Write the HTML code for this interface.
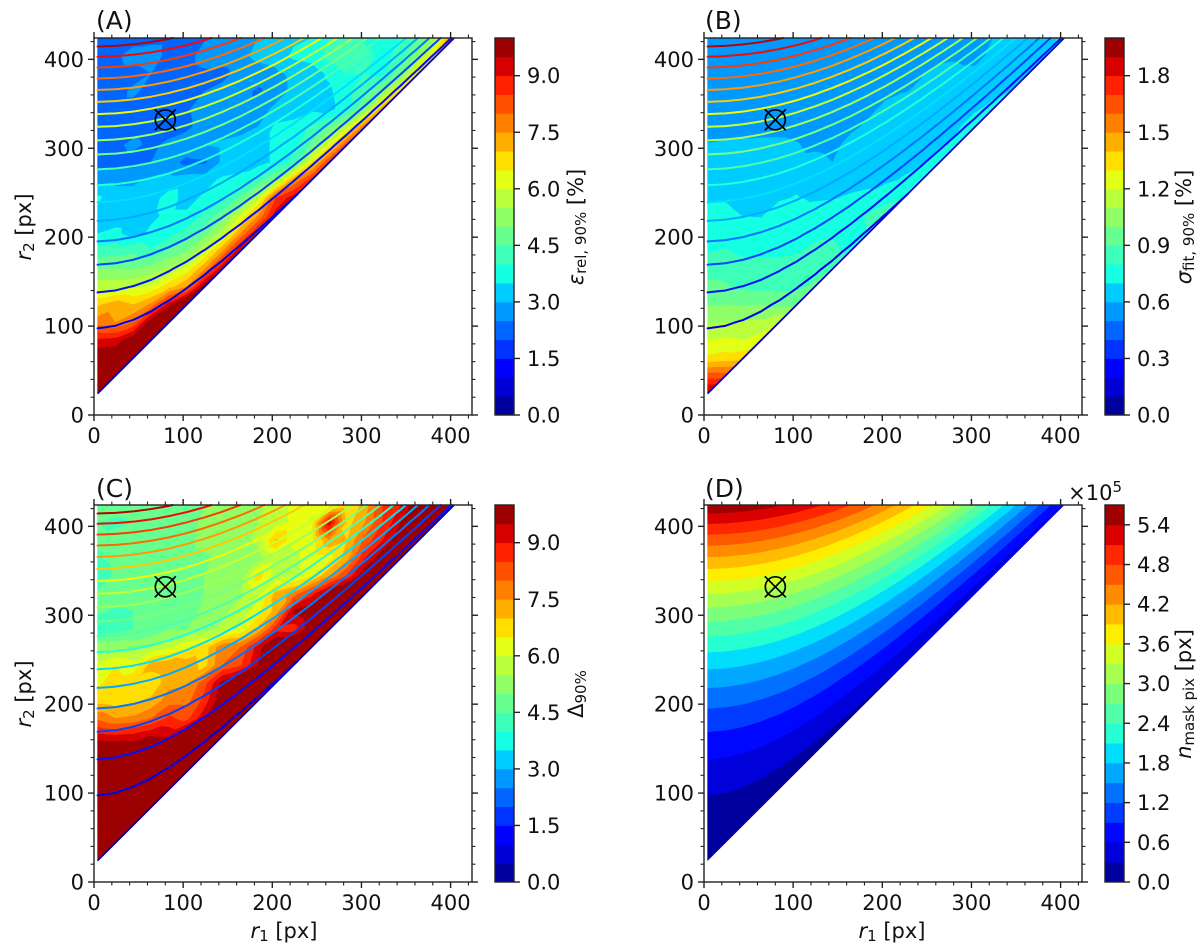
<!DOCTYPE html>
<html lang="en">
<head>
<meta charset="utf-8">
<title>Mask radius parameter study contour maps</title>
<style>
  html, body { margin: 0; padding: 0; background: #fff; }
  svg { display: block; }
  text { font-family: "DejaVu Sans", "Liberation Sans", sans-serif; fill: #111; }
</style>
</head>
<body>
<svg id="figure" xmlns="http://www.w3.org/2000/svg" width="1200" height="948" viewBox="0 0 1200 948">
  <rect width="1200" height="948" fill="#fff"/>
  <g id="marks"></g>

  <text x="96" y="29" font-size="25">(A)</text>
  <text x="705" y="29" font-size="25">(B)</text>
  <text x="96" y="497" font-size="25">(C)</text>
  <text x="705" y="497" font-size="25">(D)</text>

  <text transform="translate(31,227) rotate(-90)" text-anchor="middle" font-size="21"><tspan font-style="italic">r</tspan><tspan font-size="15" dy="3">2</tspan><tspan dy="-3"> [px]</tspan></text>
  <text transform="translate(31,694) rotate(-90)" text-anchor="middle" font-size="21"><tspan font-style="italic">r</tspan><tspan font-size="15" dy="3">2</tspan><tspan dy="-3"> [px]</tspan></text>
  <text x="284" y="938" text-anchor="middle" font-size="21"><tspan font-style="italic">r</tspan><tspan font-size="15" dy="3">1</tspan><tspan dy="-3"> [px]</tspan></text>
  <text x="892" y="938" text-anchor="middle" font-size="21"><tspan font-style="italic">r</tspan><tspan font-size="15" dy="3">1</tspan><tspan dy="-3"> [px]</tspan></text>

  <text transform="translate(583,227) rotate(-90)" text-anchor="middle" font-size="21"><tspan font-style="italic">ε</tspan><tspan font-size="15" dy="3">rel, 90%</tspan><tspan dy="-3"> [%]</tspan></text>
  <text transform="translate(1191,227) rotate(-90)" text-anchor="middle" font-size="21"><tspan font-style="italic">σ</tspan><tspan font-size="15" dy="3">fit, 90%</tspan><tspan dy="-3"> [%]</tspan></text>
  <text transform="translate(583,694) rotate(-90)" text-anchor="middle" font-size="21"><tspan>Δ</tspan><tspan font-size="15" dy="3">90%</tspan></text>
  <text transform="translate(1191,694) rotate(-90)" text-anchor="middle" font-size="21"><tspan font-style="italic">n</tspan><tspan font-size="15" dy="3">mask pix</tspan><tspan dy="-3"> [px]</tspan></text>
  <text x="1122" y="500" text-anchor="end" font-size="21">×10<tspan font-size="15" dy="-8">5</tspan></text>
</svg>

<script>
// ---- categories ----
const r1Values = [4,24,44,64,84,104,124,144,164,184,204,224,244,264,284,304,324,344,364,384,404];
const r2Values = [24,44,64,84,104,124,144,164,184,204,224,244,264,284,304,324,344,364,384,404,424];

// ---- series values: one row per r2, one column per r1 ----
const relativeError = [
  [13],
  [12,12],
  [10,10,11],
  [9.1,9.2,10,11],
  [7.8,7.5,8,10,11],
  [6.9,7.3,7,7.6,9.3,11],
  [5.8,5.8,5.9,6.1,6.8,7.5,10],
  [5,5,5,5.2,5.6,6.2,7.5,9.5],
  [4.2,4.3,4.4,4.1,4.6,5,5.9,7.5,9.5],
  [3.5,3.6,3.3,3.6,3.8,4.2,4.8,5.7,7.5,9.3],
  [3.3,3.3,3.3,3.4,3.6,3.6,4.1,4.8,6,7.5,9.3],
  [3.6,3.2,3.2,3.3,3.7,3.3,3.6,3.8,4.6,5.8,8.5,9.3],
  [2.8,2.9,2.9,3.1,3.2,3.3,3.3,3.6,3.7,4.2,5.2,7.5,8.8],
  [2.3,2.3,2.3,2.5,2.7,2.35,2.4,3.1,3.2,3.3,3.6,4.2,6.5,8.7],
  [2.3,2.4,2.6,2.4,2.6,2.8,3,3.1,3.2,3.3,3.6,3.8,4.6,6.2,8.4],
  [2.3,2.3,2.3,2.3,2.3,2.4,2.7,2.7,2.8,3,3.6,3.7,4.1,4.6,5.8,8],
  [2.3,2.3,2.3,2.3,2.3,2.45,2.7,2.7,2.7,2.8,3.1,3.2,3.4,3.3,3.9,5,7.5],
  [2.4,2.3,2.6,2.3,2.3,2.3,2.5,2.7,2.7,2.4,2.8,3.1,3.2,3.4,3.9,4.3,5,7],
  [2.3,2.3,2.3,2.5,2.3,2.3,2.4,2.3,2.7,2.8,2.9,3.1,3.2,3.6,4,4,3.9,4.8,6.8],
  [2.3,2.4,2.7,2.8,2.3,2.3,2.7,2.8,2.9,3.1,3.2,3.6,3.7,4.2,4.5,4.2,3.8,4.2,5.2,7],
  [2.3,2.3,2.3,2.3,2.3,2.3,2.45,2.7,2.7,3,3.2,3.4,3.5,4,4.4,3.9,3.6,4,4.6,5.5,8]
];
const fitSigma = [
  [1.95],
  [1.65,1.65],
  [1.32,1.34,1.36],
  [1.2,1.22,1.2,1.25],
  [1.09,1.1,1.11,1.12,1.2],
  [0.99,1,0.99,1,0.97,0.98],
  [0.92,0.91,0.88,0.87,0.87,0.88,0.92],
  [0.87,0.87,0.84,0.84,0.84,0.86,0.86,0.9],
  [0.795,0.805,0.78,0.78,0.78,0.79,0.83,0.82,0.78],
  [0.75,0.77,0.75,0.74,0.74,0.74,0.77,0.79,0.76,0.8],
  [0.72,0.72,0.698,0.695,0.74,0.73,0.74,0.74,0.76,0.81,0.83],
  [0.69,0.695,0.67,0.67,0.69,0.705,0.69,0.695,0.71,0.72,0.78,0.8],
  [0.63,0.63,0.63,0.63,0.63,0.68,0.65,0.65,0.67,0.68,0.68,0.71,0.75],
  [0.62,0.62,0.62,0.62,0.62,0.62,0.63,0.6,0.63,0.63,0.64,0.67,0.69,0.75],
  [0.603,0.61,0.615,0.62,0.62,0.605,0.58,0.57,0.63,0.62,0.62,0.63,0.65,0.68,0.72],
  [0.57,0.57,0.57,0.57,0.57,0.57,0.56,0.56,0.58,0.615,0.62,0.62,0.64,0.66,0.69,0.74],
  [0.55,0.55,0.55,0.55,0.55,0.55,0.55,0.55,0.56,0.58,0.62,0.62,0.63,0.64,0.66,0.69,0.72],
  [0.55,0.55,0.55,0.55,0.55,0.55,0.55,0.55,0.55,0.55,0.58,0.598,0.605,0.62,0.64,0.66,0.68,0.7],
  [0.54,0.54,0.54,0.54,0.54,0.54,0.54,0.54,0.54,0.54,0.54,0.54,0.598,0.62,0.615,0.615,0.63,0.65,0.7],
  [0.54,0.54,0.54,0.54,0.54,0.54,0.54,0.54,0.54,0.54,0.54,0.54,0.54,0.58,0.59,0.58,0.615,0.63,0.65,0.7],
  [0.54,0.54,0.54,0.54,0.54,0.54,0.54,0.54,0.54,0.54,0.54,0.54,0.54,0.54,0.55,0.56,0.6,0.62,0.64,0.66,0.72]
];
const deltaValues = [
  [11],
  [11,11],
  [11,11,11],
  [11,11,11,11],
  [11,11,11,11,11],
  [11,11,11,11,11,11],
  [10.4,10.4,10.2,10.5,11,11,11],
  [9.2,9.1,9.2,9.5,9.4,10.3,11,11],
  [7.9,7.5,7.6,8,8.6,8.3,9.4,11,11],
  [6.8,6.7,6.9,7.1,7.8,7.8,8.7,10,11,11],
  [6.4,6.7,6.8,6.6,7.3,7.4,8.3,9.7,10.5,11,11],
  [6.1,6.5,6.2,7.2,7.4,7.3,6.8,8,8.4,9.5,11,11],
  [5.3,5.3,5.3,5.5,5.9,6.4,6.7,7.9,8,9.2,10.5,11,11],
  [3.9,4.3,4.5,4.6,5,5,5.3,5.6,6.1,7.1,8.8,8.7,10,11],
  [4.6,4.4,4.5,4.6,4.9,4.8,5.1,5.4,5.7,6.3,7.2,9.6,10,11,11],
  [4.6,4.7,4.7,4.8,4.8,4.9,5,5.2,5.4,5.8,7.2,7.7,8.8,10,11,11],
  [4,4.6,4.7,4.8,4.8,5,5,5.2,5.1,6.8,5.7,5.9,6.4,7.5,8.6,10,11],
  [4.4,4.7,4.7,4.8,4.8,4.9,4.9,5.2,5.1,5.2,5.7,5.9,6.2,6.3,7.3,9,10,11],
  [4.6,4.7,4.6,4.7,4.8,4.9,5.1,5.3,5.3,5.6,7.1,6.1,6.2,7.4,7,8.2,9,10,11],
  [4.5,4.4,4.5,4.6,4.7,4.8,5.1,5.3,5.4,5.5,5.8,6.1,6.3,9.3,6.8,7.5,8.5,9.5,11,11],
  [4.7,4.7,4.7,4.7,4.7,4.8,5,5.2,5.3,5.4,5.7,6.1,6.2,6.2,6.5,7.2,8.5,9,10,11,11]
];
const maskPixels = [
  [0.018],
  [0.060,0.043],
  [0.128,0.111,0.068],
  [0.221,0.204,0.161,0.093],
  [0.339,0.322,0.279,0.211,0.118],
  [0.483,0.465,0.422,0.354,0.261,0.143],
  [0.651,0.633,0.591,0.523,0.430,0.312,0.168],
  [0.845,0.827,0.784,0.716,0.623,0.505,0.362,0.194],
  [1.063,1.045,1.003,0.935,0.842,0.724,0.581,0.412,0.219],
  [1.307,1.289,1.247,1.179,1.086,0.968,0.824,0.656,0.462,0.244],
  [1.576,1.558,1.516,1.448,1.355,1.237,1.093,0.925,0.731,0.513,0.269],
  [1.870,1.852,1.810,1.742,1.649,1.531,1.387,1.219,1.025,0.807,0.563,0.294],
  [2.189,2.172,2.129,2.061,1.968,1.850,1.707,1.538,1.345,1.126,0.882,0.613,0.319],
  [2.533,2.516,2.473,2.405,2.312,2.194,2.051,1.883,1.689,1.470,1.227,0.958,0.664,0.344],
  [2.903,2.885,2.843,2.775,2.682,2.564,2.420,2.252,2.058,1.840,1.596,1.327,1.033,0.714,0.369],
  [3.297,3.280,3.237,3.169,3.076,2.958,2.815,2.647,2.453,2.234,1.991,1.722,1.428,1.108,0.764,0.395],
  [3.717,3.700,3.657,3.589,3.496,3.378,3.235,3.066,2.873,2.654,2.410,2.141,1.847,1.528,1.184,0.814,0.420],
  [4.162,4.144,4.102,4.034,3.941,3.823,3.679,3.511,3.317,3.099,2.855,2.586,2.292,1.973,1.629,1.259,0.865,0.445],
  [4.632,4.614,4.572,4.504,4.411,4.293,4.149,3.981,3.787,3.569,3.325,3.056,2.762,2.443,2.099,1.729,1.335,0.915,0.470],
  [5.127,5.110,5.067,4.999,4.906,4.788,4.645,4.476,4.283,4.064,3.820,3.551,3.257,2.938,2.594,2.224,1.830,1.410,0.965,0.495],
  [5.647,5.630,5.587,5.519,5.426,5.308,5.164,4.996,4.803,4.584,4.340,4.071,3.777,3.458,3.114,2.744,2.350,1.930,1.485,1.015,0.520]
];

// ---- contour levels ----
const errorLevels = [0,0.5,1,1.5,2,2.5,3,3.5,4,4.5,5,5.5,6,6.5,7,7.5,8,8.5,9,9.5,10];
const sigmaLevels = [0,0.1,0.2,0.3,0.4,0.5,0.6,0.7,0.8,0.9,1,1.1,1.2,1.3,1.4,1.5,1.6,1.7,1.8,1.9,2];
const maskLevels = [0,0.3,0.6,0.9,1.2,1.5,1.8,2.1,2.4,2.7,3,3.3,3.6,3.9,4.2,4.5,4.8,5.1,5.4,5.7];
const maskLineLevels = [0.3,0.6,0.9,1.2,1.5,1.8,2.1,2.4,2.7,3,3.3,3.6,3.9,4.2,4.5,4.8,5.1,5.4];

// ---- tick values and labels ----
const axisMajorTicks = [0,100,200,300,400];
const axisMinorTicks = [20,40,60,80,120,140,160,180,220,240,260,280,320,340,360,380,420];
const errorTicks = [0,1.5,3,4.5,6,7.5,9];
const errorTickLabels = ['0.0','1.5','3.0','4.5','6.0','7.5','9.0'];
const sigmaTicks = [0,0.3,0.6,0.9,1.2,1.5,1.8];
const sigmaTickLabels = ['0.0','0.3','0.6','0.9','1.2','1.5','1.8'];
const maskTicks = [0,0.6,1.2,1.8,2.4,3,3.6,4.2,4.8,5.4];
const maskTickLabels = ['0.0','0.6','1.2','1.8','2.4','3.0','3.6','4.2','4.8','5.4'];

// ---- selected working point ----
const markerR1 = 80;
const markerR2 = 332;

// ---- layout ----
const AXIS_MAX_X = 424;
const AXIS_MAX_Y = 424;
const AXIS_W = 378;
const AXIS_H = 377;
const NS = 'http://www.w3.org/2000/svg';
const root = document.getElementById('marks');

const panels = [
  { id:'a', left:94,  bottom:415, values:relativeError, levels:errorLevels, ticks:errorTicks, labels:errorTickLabels, lines:true },
  { id:'b', left:704, bottom:415, values:fitSigma,      levels:sigmaLevels, ticks:sigmaTicks, labels:sigmaTickLabels, lines:true },
  { id:'c', left:94,  bottom:882, values:deltaValues,   levels:errorLevels, ticks:errorTicks, labels:errorTickLabels, lines:true },
  { id:'d', left:704, bottom:882, values:maskPixels,    levels:maskLevels,  ticks:maskTicks,  labels:maskTickLabels,  lines:false }
];

function ramp(t, pts) {
  for (let i = 1; i < pts.length; i++) {
    if (t <= pts[i][0]) {
      const f = (t - pts[i-1][0]) / (pts[i][0] - pts[i-1][0]);
      return pts[i-1][1] + f * (pts[i][1] - pts[i-1][1]);
    }
  }
  return pts[pts.length-1][1];
}
function jet(t) {
  const r = ramp(t, [[0,0],[0.35,0],[0.66,1],[0.89,1],[1,0.5]]);
  const g = ramp(t, [[0,0],[0.125,0],[0.375,1],[0.64,1],[0.91,0],[1,0]]);
  const b = ramp(t, [[0,0.5],[0.11,1],[0.34,1],[0.65,0],[1,0]]);
  return 'rgb(' + Math.round(r*255) + ',' + Math.round(g*255) + ',' + Math.round(b*255) + ')';
}

function clipPoly(poly, level, keepAbove) {
  const out = [];
  for (let i = 0; i < poly.length; i++) {
    const a = poly[i], b = poly[(i+1) % poly.length];
    const ina = keepAbove ? a.v >= level : a.v <= level;
    const inb = keepAbove ? b.v >= level : b.v <= level;
    if (ina) out.push(a);
    if (ina !== inb) {
      const f = (level - a.v) / (b.v - a.v);
      out.push({ x:a.x + f*(b.x-a.x), y:a.y + f*(b.y-a.y), v:level });
    }
  }
  return out;
}

function gridTriangles(values) {
  const tris = [];
  const node = (m, j) => ({ x:r1Values[j], y:r2Values[m], v:values[m][j] });
  for (let m = 0; m < r2Values.length - 1; m++) {
    for (let j = 0; j < values[m].length; j++) {
      tris.push([node(m,j), node(m+1,j), node(m+1,j+1)]);
      if (j + 1 < values[m].length) tris.push([node(m,j), node(m,j+1), node(m+1,j+1)]);
    }
  }
  return tris;
}

function drawPanel(p) {
  const sx = v => p.left + v * AXIS_W / AXIS_MAX_X;
  const sy = v => p.bottom - v * AXIS_H / AXIS_MAX_Y;
  const fmt = n => n.toFixed(2);
  const g = document.createElementNS(NS, 'g');
  
  
  root.appendChild(g);

  const tris = gridTriangles(p.values);
  const nBands = p.levels.length - 1;
  for (let i = 0; i < nBands; i++) {
    let d = '';
    for (const tri of tris) {
      let poly = tri;
      if (i > 0) poly = clipPoly(poly, p.levels[i], true);
      if (poly.length && i < nBands - 1) poly = clipPoly(poly, p.levels[i+1], false);
      if (poly.length > 2) {
        d += 'M' + poly.map(q => fmt(sx(q.x)) + ' ' + fmt(sy(q.y))).join('L') + 'Z';
      }
    }
    const col = jet((i + 0.5) / nBands);
    if (d) {
      const band = document.createElementNS(NS, 'path');
      
      
      band.setAttribute('d', d);
      band.setAttribute('fill', col);
      band.setAttribute('stroke', col);
      band.setAttribute('stroke-width', '0.5');
      g.appendChild(band);
    }
    const sw = document.createElementNS(NS, 'rect');
    
    
    const barLeft = p.left + 401;
    const scale = AXIS_H / (p.levels[nBands] - p.levels[0]);
    sw.setAttribute('x', barLeft);
    sw.setAttribute('y', fmt(p.bottom - p.levels[i+1] * scale));
    sw.setAttribute('width', 19);
    sw.setAttribute('height', fmt((p.levels[i+1] - p.levels[i]) * scale + 0.4));
    sw.setAttribute('fill', col);
    g.appendChild(sw);
  }

  if (p.lines) {
    const maskTris = gridTriangles(maskPixels);
    const diag = document.createElementNS(NS, 'path');
    
    
    diag.setAttribute('d', 'M' + fmt(sx(r1Values[0])) + ' ' + fmt(sy(r2Values[0])) + 'L' + fmt(sx(r1Values[20])) + ' ' + fmt(sy(r2Values[20])));
    diag.setAttribute('stroke', jet(0.05));
    diag.setAttribute('stroke-width', '1.7');
    diag.setAttribute('fill', 'none');
    g.appendChild(diag);
    for (const lv of maskLineLevels) {
      let d = '';
      for (const tri of maskTris) {
        const cross = [];
        for (let k = 0; k < 3; k++) {
          const a = tri[k], b = tri[(k+1)%3];
          if ((a.v < lv) !== (b.v < lv)) {
            const f = (lv - a.v) / (b.v - a.v);
            cross.push([a.x + f*(b.x-a.x), a.y + f*(b.y-a.y)]);
          }
        }
        if (cross.length === 2) {
          d += 'M' + fmt(sx(cross[0][0])) + ' ' + fmt(sy(cross[0][1])) + 'L' + fmt(sx(cross[1][0])) + ' ' + fmt(sy(cross[1][1]));
        }
      }
      const line = document.createElementNS(NS, 'path');
      
      
      line.setAttribute('d', d);
      line.setAttribute('fill', 'none');
      line.setAttribute('stroke', jet(0.04 + 0.96 * lv / 5.7));
      line.setAttribute('stroke-width', '2');
      line.setAttribute('stroke-linecap', 'round');
      g.appendChild(line);
    }
  }

  // selected-point marker
  const cx = sx(markerR1), cy = sy(markerR2);
  const ring = document.createElementNS(NS, 'circle');
  
  
  ring.setAttribute('cx', fmt(cx));
  ring.setAttribute('cy', fmt(cy));
  ring.setAttribute('r', '10');
  ring.setAttribute('fill', 'none');
  ring.setAttribute('stroke', '#000');
  ring.setAttribute('stroke-width', '1.7');
  g.appendChild(ring);
  const cross = document.createElementNS(NS, 'path');
  
  
  cross.setAttribute('d', 'M' + fmt(cx-10.5) + ' ' + fmt(cy-10.5) + 'L' + fmt(cx+10.5) + ' ' + fmt(cy+10.5) + 'M' + fmt(cx-10.5) + ' ' + fmt(cy+10.5) + 'L' + fmt(cx+10.5) + ' ' + fmt(cy-10.5));
  cross.setAttribute('fill', 'none');
  cross.setAttribute('stroke', '#000');
  cross.setAttribute('stroke-width', '1.7');
  g.appendChild(cross);

  // ticks
  const tick = (x1, y1, x2, y2, name, w) => {
    const t = document.createElementNS(NS, 'line');
    
    
    t.setAttribute('x1', fmt(x1));
    t.setAttribute('y1', fmt(y1));
    t.setAttribute('x2', fmt(x2));
    t.setAttribute('y2', fmt(y2));
    t.setAttribute('stroke', '#222');
    t.setAttribute('stroke-width', w);
    g.appendChild(t);
  };
  const top = p.bottom - AXIS_H, right = p.left + AXIS_W;
  const addTicks = (vals, len, w, kind) => {
    for (const v of vals) {
      tick(sx(v), p.bottom, sx(v), p.bottom + len, 'x-' + kind + '-tick', w);
      tick(sx(v), top, sx(v), top - len, 'x-top-' + kind + '-tick', w);
      tick(p.left, sy(v), p.left - len, sy(v), 'y-' + kind + '-tick', w);
      tick(right, sy(v), right + len, sy(v), 'y-right-' + kind + '-tick', w);
    }
  };
  addTicks(axisMajorTicks, 6, 1.4, 'major');
  addTicks(axisMinorTicks, 3.5, 1.1, 'minor');

  for (const v of axisMajorTicks) {
    const xl = document.createElementNS(NS, 'text');
    
    
    xl.setAttribute('x', fmt(sx(v)));
    xl.setAttribute('y', p.bottom + 28);
    xl.setAttribute('text-anchor', 'middle');
    xl.setAttribute('font-size', '21');
    xl.textContent = String(v);
    g.appendChild(xl);
    const yl = document.createElementNS(NS, 'text');
    
    
    yl.setAttribute('x', p.left - 10);
    yl.setAttribute('y', fmt(sy(v) + 7.5));
    yl.setAttribute('text-anchor', 'end');
    yl.setAttribute('font-size', '21');
    yl.textContent = String(v);
    g.appendChild(yl);
  }

  // axes frame
  const frame = document.createElementNS(NS, 'rect');
  
  
  frame.setAttribute('x', p.left);
  frame.setAttribute('y', top);
  frame.setAttribute('width', AXIS_W);
  frame.setAttribute('height', AXIS_H);
  frame.setAttribute('fill', 'none');
  frame.setAttribute('stroke', '#222');
  frame.setAttribute('stroke-width', '1.4');
  g.appendChild(frame);

  // colorbar frame and ticks
  const barLeft = p.left + 401;
  const barScale = AXIS_H / (p.levels[nBands] - p.levels[0]);
  const barFrame = document.createElementNS(NS, 'rect');
  
  
  barFrame.setAttribute('x', barLeft);
  barFrame.setAttribute('y', top);
  barFrame.setAttribute('width', 19);
  barFrame.setAttribute('height', AXIS_H);
  barFrame.setAttribute('fill', 'none');
  barFrame.setAttribute('stroke', '#222');
  barFrame.setAttribute('stroke-width', '1.4');
  g.appendChild(barFrame);
  p.ticks.forEach((v, i) => {
    const y = p.bottom - v * barScale;
    tick(barLeft + 19, y, barLeft + 25, y, 'colorbar-tick', 1.4);
    const lab = document.createElementNS(NS, 'text');
    
    
    lab.setAttribute('x', barLeft + 32);
    lab.setAttribute('y', fmt(y + 7.5));
    lab.setAttribute('font-size', '21');
    lab.textContent = p.labels[i];
    g.appendChild(lab);
  });
}

panels.forEach(drawPanel);
</script>
</body>
</html>
